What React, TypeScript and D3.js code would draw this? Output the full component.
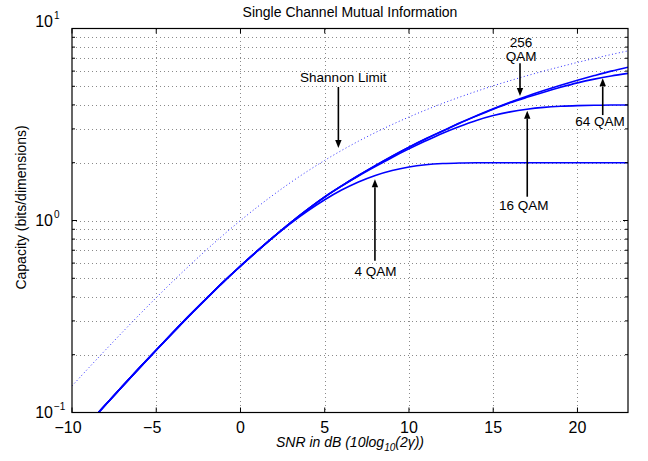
import React from 'react'
import * as d3 from 'd3'

// SNR grid (dB) and capacities
const snrDb = [-10, -9, -8, -7, -6, -5, -4, -3, -2, -1, 0, 1, 2, 3, 4, 5, 6, 7, 8, 9, 10, 11, 12, 13, 14, 15, 16, 17, 18, 19, 20, 21, 22, 23]

const shannon = [0.1375, 0.1711, 0.2122, 0.2624, 0.3233, 0.3964, 0.4835, 0.5861, 0.7057, 0.8434, 1.0, 1.1757, 1.3701, 1.5827, 1.8122, 2.0574, 2.3165, 2.5878, 2.8698, 3.1608, 3.4594, 3.7644, 4.0746, 4.389, 4.707, 5.0278, 5.3509, 5.6758, 6.0022, 6.3297, 6.6582, 6.9874, 7.3174, 7.6476]
const qam256 = [0.0704, 0.0881, 0.11, 0.1372, 0.1707, 0.2118, 0.2619, 0.3226, 0.3945, 0.4807, 0.5795, 0.6954, 0.8273, 0.9786, 1.1462, 1.3277, 1.5149, 1.7161, 1.9305, 2.1619, 2.4073, 2.6629, 2.9244, 3.2169, 3.5168, 3.8229, 4.134, 4.4428, 4.7517, 5.0631, 5.3735, 5.6853, 5.9988, 6.29]
const qam64 = [0.0704, 0.0881, 0.11, 0.1372, 0.1707, 0.2118, 0.2619, 0.3226, 0.3945, 0.4807, 0.5795, 0.6954, 0.8273, 0.9786, 1.1462, 1.3277, 1.5149, 1.7161, 1.9305, 2.1619, 2.4073, 2.6629, 2.9244, 3.212, 3.5, 3.8, 4.1, 4.38, 4.66, 4.94, 5.21, 5.45, 5.66, 5.84]
const qam16 = [0.0704, 0.0881, 0.11, 0.1372, 0.1707, 0.2118, 0.2619, 0.3226, 0.3945, 0.4807, 0.579, 0.695, 0.826, 0.977, 1.144, 1.325, 1.51, 1.705, 1.91, 2.13, 2.36, 2.6, 2.85, 3.09, 3.32, 3.52, 3.68, 3.8, 3.885, 3.937, 3.967, 3.983, 3.992, 3.996]
const qam4 = [0.0703, 0.088, 0.1098, 0.1369, 0.1702, 0.211, 0.2606, 0.3208, 0.393, 0.479, 0.578, 0.692, 0.8258, 0.9698, 1.1238, 1.2831, 1.4405, 1.588, 1.7176, 1.8229, 1.9002, 1.9508, 1.9794, 1.9929, 1.998, 1.9995, 2, 2, 2, 2, 2, 2, 2, 2]

const xTicks = [-10, -5, 0, 5, 10, 15, 20]
const yMajor = [0.1, 1, 10]
const yExponents = [-1, 0, 1]

// annotation text + arrows, in data units (dB, bits)
const notes = [
  { text: ['Shannon Limit'], tx: 6.1, ty: 5.29, ax: 5.81, from: 4.96, to: 2.386 },
  { text: ['256', 'QAM'], tx: 16.65, ty: 8.04, ax: 16.59, from: 6.59, to: 4.45 },
  { text: ['64 QAM'], tx: 21.34, ty: 3.09, ax: 21.5, from: 3.54, to: 5.5 },
  { text: ['16 QAM'], tx: 16.81, ty: 1.134, ax: 17.02, from: 1.33, to: 3.73 },
  { text: ['4 QAM'], tx: 8.01, ty: 0.511, ax: 7.98, from: 0.617, to: 1.639 },
]

const W = 648
const H = 461
const left = 72, right = 628, top = 28.5, bottom = 412.5
const font = '"Liberation Sans", Arial, Helvetica, sans-serif'

const App = () => {
  const x = d3.scaleLinear().domain([-10, 23]).range([left, right])
  const y = d3.scaleLog().domain([0.1, 10]).range([bottom, top])

  const line = (vals) =>
    d3.line()
      .x((d, i) => x(snrDb[i]))
      .y(d => y(d))
      .curve(d3.curveMonotoneX)(vals)

  // minor log grid 0.2..0.9, 2..9
  const yMinor = []
  ;[0.1, 1].forEach(dec => {
    for (let k = 2; k <= 9; k++) yMinor.push(dec * k)
  })
  const yGrid = [...yMinor, 1]

  const solid = [qam4, qam16, qam64, qam256]

  return (
    <div style={{ position: 'fixed', left: 0, top: 0 }}>
      <svg width={W} height={H} style={{ display: 'block', background: '#fff' }} fontFamily={font}>
        <defs>
          <clipPath id="plot">
            <rect x={left} y={top} width={right - left} height={bottom - top} />
          </clipPath>
        </defs>

        {/* grid */}
        <g stroke="#8a8a8a" strokeWidth={1} strokeDasharray="1,3" shapeRendering="crispEdges">
          {xTicks.filter(t => t > -10).map(t => (
            <line key={'gx' + t} x1={Math.round(x(t)) + 0.5} x2={Math.round(x(t)) + 0.5} y1={top} y2={bottom} />
          ))}
          {yGrid.map(v => (
            <line key={'gy' + v} x1={left} x2={right} y1={Math.round(y(v)) + 0.5} y2={Math.round(y(v)) + 0.5} />
          ))}
        </g>

        {/* curves */}
        <g clipPath="url(#plot)" fill="none">
          <path d={line(shannon)} stroke="#2b2bff" strokeWidth={1} strokeDasharray="1,2.5" />
          {solid.map((s, i) => (
            <path key={i} d={line(s)} stroke="#0000ff" strokeWidth={1.6} />
          ))}
        </g>

        {/* box + ticks */}
        <rect x={left} y={top} width={right - left} height={bottom - top} fill="none" stroke="#000" strokeWidth={1.2} />
        <g stroke="#000" strokeWidth={1}>
          {xTicks.map(t => (
            <g key={'tx' + t}>
              <line x1={x(t)} x2={x(t)} y1={bottom} y2={bottom - 5} />
              <line x1={x(t)} x2={x(t)} y1={top} y2={top + 5} />
            </g>
          ))}
          {yMajor.map(v => (
            <g key={'ty' + v}>
              <line x1={left} x2={left + 5} y1={y(v)} y2={y(v)} />
              <line x1={right} x2={right - 5} y1={y(v)} y2={y(v)} />
            </g>
          ))}
          {yMinor.map(v => (
            <g key={'tm' + v}>
              <line x1={left} x2={left + 3} y1={y(v)} y2={y(v)} />
              <line x1={right} x2={right - 3} y1={y(v)} y2={y(v)} />
            </g>
          ))}
        </g>

        {/* x tick labels */}
        <g fontSize={16} textAnchor="middle" fill="#000">
          {xTicks.map(t => (
            <text key={'lx' + t} x={x(t)} y={bottom + 20} dx={t < 0 ? -4 : 0}>
              {t < 0 ? '\u2212' + Math.abs(t) : t}
            </text>
          ))}
        </g>

        {/* y tick labels 10^n */}
        <g fill="#000">
          {yMajor.map((v, i) => {
            const yy = y(v) + (i === yMajor.length - 1 ? -2 : 5.5)
            const e = yExponents[i]
            return (
              <g key={'ly' + v}>
                <text x={53} y={yy} fontSize={16} textAnchor="end">10</text>
                <text x={54} y={yy - 8} fontSize={10}>{e < 0 ? '\u2212' + Math.abs(e) : e}</text>
              </g>
            )
          })}
        </g>

        {/* title and axis labels */}
        <text x={(left + right) / 2} y={17} fontSize={14} textAnchor="middle">Single Channel Mutual Information</text>
        <text x={(left + right) / 2} y={447} fontSize={14} textAnchor="middle" fontStyle="italic">
          SNR in dB (10log<tspan fontSize={10} dy={4}>10</tspan><tspan dy={-4}>(2γ))</tspan>
        </text>
        <text transform={`translate(26,${(top + bottom) / 2 - 13}) rotate(-90)`} fontSize={14} textAnchor="middle">
          Capacity (bits/dimensions)
        </text>

        {/* annotations */}
        <g fontSize={13.5} textAnchor="middle" fill="#000">
          {notes.map((n, i) => {
            const ax = x(n.ax)
            const y0 = y(n.from)
            const y1 = y(n.to)
            const dir = y1 > y0 ? 1 : -1
            const hl = 8, hw = 3.2
            return (
              <g key={'n' + i}>
                {n.text.map((t, j) => (
                  <text key={j} x={x(n.tx)} y={y(n.ty) + j * 14}>{t}</text>
                ))}
                <line x1={ax} x2={ax} y1={y0} y2={y1 - dir * hl} stroke="#000" strokeWidth={1.6} />
                <path
                  d={`M${ax},${y1} L${ax - hw},${y1 - dir * hl} L${ax + hw},${y1 - dir * hl} Z`}
                  fill="#000"
                />
              </g>
            )
          })}
        </g>
      </svg>
    </div>
  )
}

export default App
